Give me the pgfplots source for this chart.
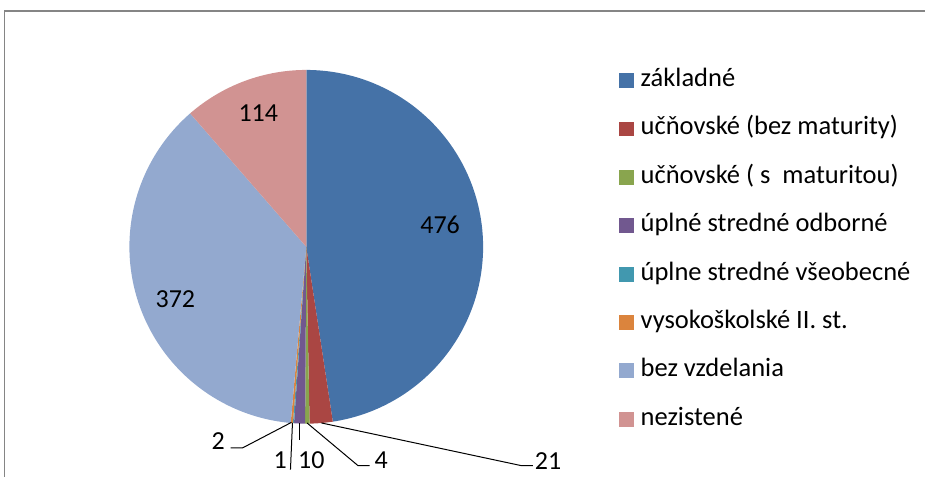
\documentclass[border=0pt]{standalone}
\usepackage{fontspec}
\setmainfont{Carlito}
\usepackage{pgfplots}
\pgfplotsset{compat=1.18}
\definecolor{c1}{HTML}{4572A7}
\definecolor{c2}{HTML}{AA4643}
\definecolor{c3}{HTML}{89A54E}
\definecolor{c4}{HTML}{71588F}
\definecolor{c5}{HTML}{4198AF}
\definecolor{c6}{HTML}{DB843D}
\definecolor{c7}{HTML}{93A9CF}
\definecolor{c8}{HTML}{D19392}
\newcommand\cum{0}
\newcommand\slice[3]{%
  \pgfmathsetmacro\sa{90-0.36*\cum}%
  \pgfmathsetmacro\cum{\cum+#1}%
  \pgfmathsetmacro\sb{90-0.36*\cum}%
  \edef\tmp{\noexpand\addplot[fill=#2, draw=none, domain=\sb:\sa, samples=150, variable=\noexpand\t]
    ({177*cos(\noexpand\t)},{177*sin(\noexpand\t)}) -- (axis cs:0,0) -- cycle;}%
  \tmp
  \addlegendentry{#3}%
}
\begin{document}
\begin{tikzpicture}
\begin{axis}[
  x=1pt, y=1pt,
  xmin=-306.5, xmax=619.5, ymin=-230, ymax=247,
  hide axis, clip=false,
  legend cell align=left,
  legend image code/.code={\fill[#1,draw=none] (0pt,-7.5pt) rectangle (15pt,7.5pt);},
  legend style={at={(axis cs:312.5,178.5)}, anchor=north west, draw=none, fill=none,
    font=\fontsize{26.5}{30}\selectfont, inner sep=0pt, row sep=24.4pt, column sep=7pt,
    nodes={inner sep=0pt, text height=18pt, text depth=6pt}},
]
\path (axis cs:-306.5,-230) rectangle (axis cs:619.5,247);
\slice{476}{c1}{základné}
\slice{21}{c2}{učňovské (bez maturity)}
\slice{4}{c3}{učňovské (\ s\ \ maturitou)}
\slice{10}{c4}{úplné stredné odborné}
\slice{1}{c5}{úplne stredné všeobecné}
\slice{2}{c6}{vysokoškolské II. st.}
\slice{372}{c7}{bez vzdelania}
\slice{114}{c8}{nezistené}
% frame
\draw[color=black!48, line width=1.5pt] (axis cs:-302,-230) -- (axis cs:-302,236) -- (axis cs:619.5,236);
% data labels
\begin{scope}[font=\fontsize{26}{30}\selectfont]
\node at (axis cs:134,22) {476};
\node at (axis cs:-131,-52) {372};
\node at (axis cs:-48,134) {114};
\node at (axis cs:-88,-194) {2};
\node at (axis cs:-26,-214) {1};
\node at (axis cs:5,-214) {10};
\node at (axis cs:75,-214) {4};
\node at (axis cs:242,-214) {21};
\end{scope}
\begin{scope}[line width=1pt, black]
\draw (axis cs:-14.8,-175.7) -- (axis cs:-63.8,-201.3) -- (axis cs:-75.8,-201.3);
\draw (axis cs:-13.8,-176.3) -- (axis cs:-15.8,-223);
\draw (axis cs:-7.2,-176.3) -- (axis cs:-7.2,-193);
\draw (axis cs:0.8,-176.3) -- (axis cs:51.8,-219) -- (axis cs:63.5,-219);
\draw (axis cs:15.2,-176.3) -- (axis cs:215.2,-219) -- (axis cs:226.8,-219);
\end{scope}
\end{axis}
\end{tikzpicture}
\end{document}
